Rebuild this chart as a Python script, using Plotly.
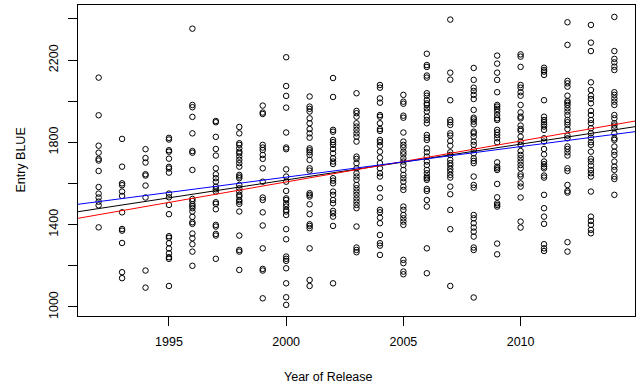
import plotly.graph_objects as go

# Entry BLUE values by year of release
y1992 = [2115, 1932, 1784, 1750, 1720, 1712, 1661, 1583, 1551, 1532, 1512, 1494, 1387]
y1993 = [1817, 1682, 1601, 1592, 1561, 1540, 1460, 1379, 1371, 1311, 1169, 1140]
y1994 = [1767, 1724, 1702, 1645, 1639, 1590, 1532, 1177, 1094]
y1995 = [1822, 1814, 1762, 1755, 1721, 1681, 1673, 1653, 1551, 1533, 1496, 1451, 1344, 1336,
         1310, 1284, 1261, 1242, 1234, 1102]
y1996 = [2353, 1982, 1971, 1924, 1844, 1758, 1750, 1666, 1525, 1515, 1499, 1490, 1480, 1464,
         1438, 1412, 1404, 1357, 1334, 1305, 1269, 1200]
y1997 = [1904, 1898, 1827, 1768, 1736, 1674, 1645, 1626, 1609, 1585, 1572, 1561, 1509, 1501,
         1475, 1399, 1391, 1355, 1347, 1234]
y1998 = [1875, 1844, 1796, 1788, 1771, 1755, 1747, 1731, 1715, 1699, 1682, 1642, 1634, 1626,
         1593, 1577, 1561, 1545, 1537, 1520, 1512, 1501, 1464, 1347, 1277, 1269, 1180]
y1999 = [1979, 1945, 1938, 1788, 1775, 1763, 1739, 1720, 1674, 1609, 1532, 1520, 1460, 1396,
         1285, 1185, 1177, 1042]
y2000 = [2214, 2074, 2026, 1969, 1848, 1775, 1767, 1669, 1634, 1609, 1564, 1528, 1520, 1501,
         1488, 1472, 1464, 1447, 1378, 1329, 1245, 1234, 1224, 1188, 1115, 1047, 1010]
y2001 = [2023, 1974, 1963, 1950, 1917, 1893, 1865, 1844, 1823, 1771, 1762, 1752, 1739, 1715,
         1674, 1663, 1553, 1545, 1537, 1499, 1451, 1402, 1394, 1383, 1285, 1131, 1102]
y2002 = [2113, 2021, 1861, 1852, 1812, 1801, 1788, 1768, 1747, 1723, 1707, 1695, 1626, 1614,
         1601, 1561, 1545, 1520, 1504, 1467, 1455, 1439, 1394, 1115]
y2003 = [2039, 1953, 1942, 1925, 1893, 1877, 1861, 1844, 1828, 1804, 1731, 1720, 1699, 1674,
         1650, 1634, 1618, 1593, 1577, 1561, 1545, 1528, 1512, 1496, 1480, 1391, 1289, 1277, 1266]
y2004 = [2079, 2066, 2014, 1993, 1933, 1925, 1893, 1865, 1856, 1812, 1801, 1784, 1755, 1726,
         1699, 1674, 1650, 1634, 1577, 1532, 1472, 1460, 1434, 1407, 1350, 1310, 1298, 1253]
y2005 = [2031, 1998, 1988, 1930, 1920, 1848, 1804, 1788, 1775, 1755, 1742, 1723, 1707, 1690,
         1666, 1642, 1626, 1609, 1585, 1569, 1488, 1472, 1447, 1431, 1415, 1399, 1229, 1213,
         1172, 1159]
y2006 = [2231, 2176, 2167, 2125, 2115, 2039, 2027, 2006, 1990, 1982, 1966, 1950, 1925, 1909,
         1893, 1836, 1823, 1812, 1771, 1752, 1731, 1707, 1690, 1666, 1650, 1634, 1626, 1618,
         1574, 1564, 1520, 1488, 1285, 1164]
y2007 = [2397, 2139, 2105, 2005, 1909, 1898, 1885, 1844, 1833, 1807, 1784, 1752, 1739, 1715,
         1699, 1687, 1671, 1658, 1642, 1629, 1585, 1548, 1472, 1378, 1102]
y2008 = [2162, 2104, 2066, 2050, 2031, 2011, 1958, 1920, 1912, 1901, 1888, 1852, 1844, 1828,
         1804, 1788, 1763, 1747, 1723, 1710, 1699, 1634, 1593, 1580, 1447, 1431, 1407, 1386,
         1366, 1342, 1289, 1277, 1046]
y2009 = [2222, 2183, 2139, 2104, 2044, 1982, 1974, 1963, 1950, 1933, 1917, 1909, 1861, 1849,
         1836, 1820, 1801, 1703, 1682, 1674, 1666, 1598, 1533, 1504, 1496, 1488, 1308, 1256]
y2010 = [2228, 2217, 2167, 2079, 2066, 2044, 2027, 1982, 1946, 1925, 1917, 1882, 1865, 1856,
         1828, 1804, 1788, 1758, 1739, 1723, 1707, 1690, 1674, 1645, 1634, 1601, 1585, 1532,
         1415, 1386]
y2011 = [2163, 2152, 2144, 2128, 2005, 1925, 1909, 1898, 1888, 1877, 1861, 1820, 1804, 1768,
         1742, 1707, 1694, 1682, 1674, 1639, 1629, 1545, 1480, 1439, 1404, 1305, 1285, 1272]
y2012 = [2384, 2274, 2099, 2087, 2071, 2027, 2001, 1993, 1982, 1966, 1950, 1933, 1909, 1898,
         1885, 1865, 1833, 1820, 1780, 1768, 1752, 1736, 1674, 1661, 1593, 1564, 1556, 1315, 1269]
y2013 = [2371, 2285, 2244, 2092, 2055, 2027, 2011, 1990, 1953, 1933, 1909, 1893, 1869, 1844,
         1823, 1801, 1788, 1755, 1720, 1707, 1687, 1666, 1650, 1634, 1561, 1439, 1418, 1399,
         1375, 1358]
y2014 = [2410, 2244, 2206, 2189, 2168, 2152, 2044, 2031, 2014, 1998, 1982, 1933, 1917, 1893,
         1882, 1869, 1844, 1820, 1812, 1780, 1755, 1739, 1707, 1682, 1666, 1634, 1622, 1545]

years = list(range(1992, 2015))
by_year = [y1992, y1993, y1994, y1995, y1996, y1997, y1998, y1999, y2000, y2001, y2002,
           y2003, y2004, y2005, y2006, y2007, y2008, y2009, y2010, y2011, y2012, y2013, y2014]

# Fitted lines: value at year 2000 and slope per year
line_names = ["black fit", "red fit", "blue fit"]
line_at_2000 = [1617.5, 1607.7, 1631.0]
line_slope = [17.4, 19.9, 14.86]
line_colors = ["black", "red", "blue"]

xs, ys = [], []
for yr, vals in zip(years, by_year):
    xs += [yr] * len(vals)
    ys += vals

xr = [1991.12, 2014.88]
yr_range = [956, 2468]

font = "Liberation Sans, Arial, sans-serif"
fig = go.Figure()
fig.add_trace(go.Scatter(x=xs, y=ys, mode="markers",
                         marker=dict(symbol="circle-open", size=5.5, color="black",
                                     line=dict(width=1, color="black")),
                         showlegend=False))
for nm, b, s, c in zip(line_names, line_at_2000, line_slope, line_colors):
    fig.add_trace(go.Scatter(x=xr, y=[b + s * (x - 2000) for x in xr], mode="lines",
                             line=dict(color=c, width=1), name=nm, showlegend=False))

ytv = [1000, 1200, 1400, 1600, 1800, 2000, 2200, 2400]
ytt = ["1000", "", "1400", "", "1800", "", "2200", ""]

fig.update_layout(
    width=638, height=388,
    margin=dict(l=78, r=3, t=5, b=72),
    plot_bgcolor="white", paper_bgcolor="white",
    font=dict(family=font, size=12.5, color="black"),
    xaxis=dict(range=xr, tickvals=[1995, 2000, 2005, 2010], showgrid=False, zeroline=False,
               showline=True, linecolor="black", linewidth=1, mirror=True,
               ticks="outside", ticklen=9, tickcolor="black", tickwidth=1,
               ticklabelstandoff=5),
    yaxis=dict(range=yr_range, tickvals=ytv, ticktext=ytt, tickangle=-90, showgrid=False,
               zeroline=False, showline=True, linecolor="black", linewidth=1, mirror=True,
               ticks="outside", ticklen=9, tickcolor="black", tickwidth=1,
               ticklabelstandoff=5),
    annotations=[
        dict(text="Year of Release", xref="paper", yref="paper", x=0.449, y=-0.196,
             xanchor="center", yanchor="middle", showarrow=False, font=dict(size=12.5)),
        dict(text="Entry BLUE", xref="paper", yref="paper", x=-0.104, y=0.5, textangle=-90,
             xanchor="center", yanchor="middle", showarrow=False, font=dict(size=12.5)),
    ],
)
fig.write_html("out.html", config={"displayModeBar": False},
               post_script="document.body.style.margin='0';document.body.style.overflow='hidden';")
